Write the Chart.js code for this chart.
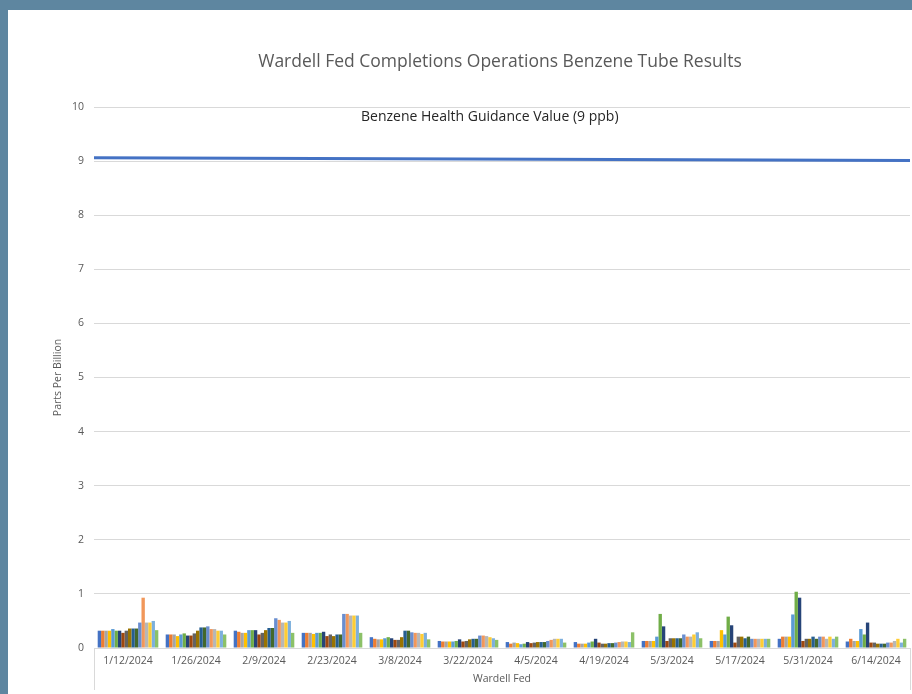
<!DOCTYPE html>
<html>
<head>
<meta charset="utf-8">
<title>Wardell Fed Benzene Tube Results</title>
<script src="https://cdn.jsdelivr.net/npm/chart.js@4"></script>
<style>
  html, body { margin: 0; padding: 0; background: #5e86a0; overflow: hidden; width: 912px; height: 694px; }
  #panel { position: absolute; left: 8px; top: 10px; width: 984px; height: 684px; background: #fff; }
</style>
</head>
<body>
<div id="panel"><canvas id="myChart" width="984" height="684"></canvas></div>
<script>
// sampling dates (inner category level) and site (outer level)
const dates = ["1/12/2024", "1/26/2024", "2/9/2024", "2/23/2024", "3/8/2024", "3/22/2024",
	"4/5/2024", "4/19/2024", "5/3/2024", "5/17/2024", "5/31/2024", "6/14/2024"];
const siteName = "Wardell Fed";

// benzene results per tube, ppb, one value per date
const tube1 = [0.32, 0.25, 0.32, 0.28, 0.20, 0.13, 0.11, 0.11, 0.13, 0.13, 0.17, 0.12];
const tube2 = [0.32, 0.25, 0.30, 0.28, 0.17, 0.12, 0.08, 0.08, 0.13, 0.13, 0.21, 0.17];
const tube3 = [0.32, 0.25, 0.28, 0.28, 0.16, 0.12, 0.10, 0.08, 0.13, 0.13, 0.21, 0.13];
const tube4 = [0.32, 0.22, 0.28, 0.26, 0.16, 0.12, 0.09, 0.08, 0.13, 0.33, 0.21, 0.13];
const tube5 = [0.35, 0.25, 0.33, 0.28, 0.18, 0.12, 0.07, 0.10, 0.21, 0.25, 0.62, 0.35];
const tube6 = [0.32, 0.27, 0.33, 0.28, 0.20, 0.13, 0.08, 0.12, 0.63, 0.58, 1.04, 0.25];
const tube7 = [0.32, 0.23, 0.33, 0.30, 0.18, 0.16, 0.11, 0.17, 0.40, 0.42, 0.93, 0.47];
const tube8 = [0.28, 0.23, 0.25, 0.22, 0.15, 0.12, 0.09, 0.10, 0.13, 0.10, 0.13, 0.10];
const tube9 = [0.32, 0.27, 0.28, 0.25, 0.15, 0.13, 0.10, 0.08, 0.18, 0.21, 0.17, 0.10];
const tube10 = [0.36, 0.32, 0.33, 0.22, 0.20, 0.16, 0.11, 0.08, 0.18, 0.21, 0.17, 0.08];
const tube11 = [0.36, 0.38, 0.37, 0.25, 0.32, 0.17, 0.11, 0.09, 0.18, 0.18, 0.21, 0.08];
const tube12 = [0.36, 0.38, 0.37, 0.25, 0.32, 0.17, 0.11, 0.09, 0.18, 0.21, 0.17, 0.08];
const tube13 = [0.47, 0.40, 0.55, 0.63, 0.29, 0.23, 0.13, 0.10, 0.25, 0.17, 0.21, 0.10];
const tube14 = [0.93, 0.35, 0.52, 0.63, 0.28, 0.23, 0.15, 0.11, 0.21, 0.17, 0.21, 0.10];
const tube15 = [0.47, 0.35, 0.47, 0.60, 0.28, 0.22, 0.17, 0.12, 0.21, 0.17, 0.17, 0.13];
const tube16 = [0.47, 0.32, 0.47, 0.60, 0.26, 0.20, 0.17, 0.12, 0.25, 0.17, 0.21, 0.17];
const tube17 = [0.50, 0.32, 0.50, 0.60, 0.28, 0.18, 0.17, 0.11, 0.29, 0.17, 0.17, 0.10];
const tube18 = [0.33, 0.25, 0.28, 0.28, 0.16, 0.15, 0.10, 0.29, 0.18, 0.17, 0.21, 0.17];

const tubeResults = [tube1, tube2, tube3, tube4, tube5, tube6, tube7, tube8, tube9,
	tube10, tube11, tube12, tube13, tube14, tube15, tube16, tube17, tube18];

// guidance line, start and end value (drawn a touch off level in the original)
const guidanceValues = [9.06, 9.01];
const guidanceLabel = "Benzene Health Guidance Value (9 ppb)";

const yTicks = [0, 1, 2, 3, 4, 5, 6, 7, 8, 9, 10];

// office palette
const tubeColors = ["#4472C4", "#ED7D31", "#A5A5A5", "#FFC000", "#5B9BD5", "#70AD47",
	"#264478", "#9E480E", "#636363", "#997300", "#255E91", "#43682B",
	"#698ED0", "#F1975A", "#B7B7B7", "#FFCD33", "#7CAFDD", "#8CC168"];

const barSets = tubeResults.map((vals, i) => {
	return {
		type: 'bar',
		indexAxis: 'x',
		label: "Tube " + (i + 1),
		data: vals,
		backgroundColor: tubeColors[i],
		borderWidth: 0,
		categoryPercentage: 18 / 20.19,
		barPercentage: 1.0,
		order: 2
	};
});

// line lives on its own hidden 0..1 axis so it runs the full plot width
const lineSet = {
	type: 'line',
	indexAxis: 'x',
	label: guidanceLabel,
	data: [{x: 0, y: guidanceValues[0]}, {x: 1, y: guidanceValues[1]}],
	borderColor: "#4472C4",
	borderWidth: 3,
	pointRadius: 0,
	xAxisID: 'x2',
	order: 1
};

// writes the guidance text just above the line
const guidanceText = {
	id: 'guidanceText',
	afterDatasetsDraw(chart) {
		const ctx = chart.ctx;
		ctx.save();
		ctx.font = "14px 'Open Sans'";
		ctx.fillStyle = "#262626";
		ctx.textAlign = 'center';
		ctx.textBaseline = 'middle';
		ctx.fillText(guidanceLabel, chart.scales.x2.getPixelForValue(0.485), chart.scales.y.getPixelForValue(9.81));
		ctx.restore();
	}
};

var ctx = document.getElementById("myChart").getContext('2d');
var myChart = new Chart(ctx, {
	data: {
		labels: dates,
		datasets: [lineSet].concat(barSets)
	},
	plugins: [guidanceText],
	options: {
		// bars count axes by yAxisID this way, so x2 does not split the groups
		indexAxis: 'y',
		responsive: false,
		animation: false,
		devicePixelRatio: 1,
		plugins: {
			legend: { display: false },
			tooltip: { enabled: false },
			title: {
				display: true,
				text: "Wardell Fed Completions Operations Benzene Tube Results",
				color: "#595959",
				font: { family: "'Open Sans'", size: 17.5, weight: 'normal' },
				padding: { top: 42, bottom: 34 }
			}
		},
		scales: {
			x: {
				type: 'category',
				offset: true,
				border: { display: true, color: "#d9d9d9" },
				grid: {
					offset: true,
					drawOnChartArea: false,
					tickLength: 42,
					color: (c) => (c.type === 'tick' && c.index > 0) ? 'rgba(0,0,0,0)' : "#d9d9d9"
				},
				ticks: {
					color: "#595959",
					font: { family: "'Open Sans'", size: 10.5 },
					maxRotation: 0,
					autoSkip: false,
					padding: -35.3
				},
				title: {
					display: true,
					text: siteName,
					color: "#595959",
					font: { family: "'Open Sans'", size: 10.5 },
					padding: { top: 40.7, bottom: 8.7 }
				}
			},
			x2: {
				type: 'linear',
				display: false,
				min: 0,
				max: 1
			},
			y: {
				min: 0,
				max: 10,
				afterBuildTicks: (scale) => { scale.ticks = yTicks.map(v => ({value: v})); },
				border: { display: false },
				grid: { color: "#d9d9d9", tickColor: 'rgba(0,0,0,0)', tickLength: 9 },
				ticks: {
					color: "#595959",
					font: { family: "'Open Sans'", size: 10.5 },
					padding: 1
				},
				title: {
					display: true,
					text: "Parts Per Billion",
					color: "#595959",
					font: { family: "'Open Sans'", size: 10.5 },
					padding: { top: 43.7, bottom: 6.7 }
				}
			},
			// empty strip on the right, where the original's legend sits out of view
			yPad: {
				type: 'linear',
				position: 'right',
				grid: { display: false },
				ticks: { display: false },
				border: { display: false },
				afterFit: (scale) => { scale.width = 82; }
			}
		}
	}
});
</script>
</body>
</html>
